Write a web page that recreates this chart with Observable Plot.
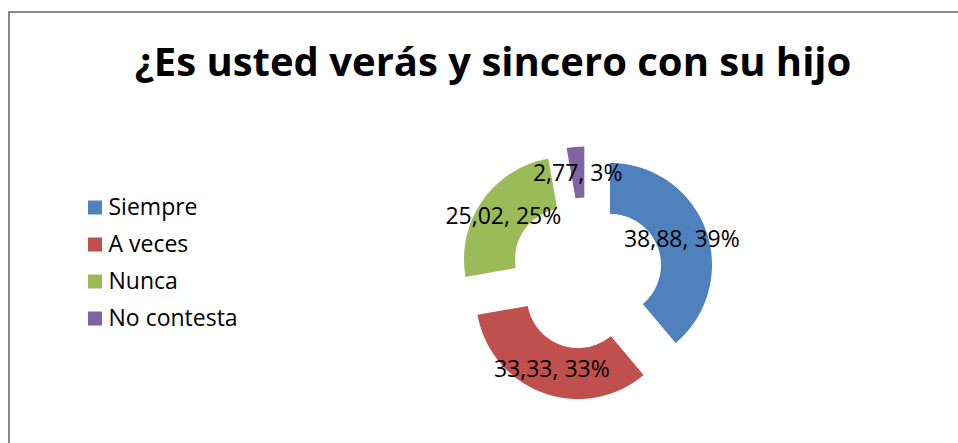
<!DOCTYPE html>
<html>
<head>
<meta charset="utf-8">
<script src="https://cdn.jsdelivr.net/npm/d3@7"></script>
<script src="https://cdn.jsdelivr.net/npm/@observablehq/plot@0.6"></script>
<style>
  html, body { margin: 0; padding: 0; background: #fff; width: 958px; height: 443px; overflow: hidden; }
  #frame { position: absolute; left: 8px; top: 11px; width: 1000px; height: 500px;
           border-left: 2px solid #8a8a8a; border-top: 2px solid #8a8a8a; box-sizing: border-box; }
  #title { position: absolute; left: 0; top: 41px; width: 986px; text-align: center;
           font-family: "Open Sans", sans-serif; font-weight: 700; font-size: 40px; line-height: 1;
           color: #000; white-space: nowrap; }
  #chart { position: absolute; left: 0; top: 110px; }
</style>
</head>
<body>
<div id="frame"></div>
<div id="title">¿Es usted verás y sincero con su hijo</div>
<div id="chart"></div>
<script>
// ---- data ----
const categories = ["Siempre", "A veces", "Nunca", "No contesta"];
const values = [38.88, 33.33, 25.02, 2.77];
const colors = ["#4F81BD", "#C0504D", "#9BBB59", "#8064A2"];

// ---- layout constants ----
const W = 958, H = 333, TOP = 110;
const center = [586, 273 - TOP];
const outerR = 102, innerR = 51, explode = 25;

const total = d3.sum(values);
const pie = d3.pie().sort(null).value(d => d.value);
const arcs = pie(categories.map((c, i) => ({cat: c, value: values[i]})));

const poly = [];
const labels = [];
arcs.forEach(a => {
  const mid = (a.startAngle + a.endAngle) / 2;
  const cx = center[0] + explode * Math.sin(mid);
  const cy = center[1] - explode * Math.cos(mid);
  const n = 60;
  for (let k = 0; k <= n; k++) {
    const t = a.startAngle + (a.endAngle - a.startAngle) * k / n;
    poly.push({cat: a.data.cat, x: cx + outerR * Math.sin(t), y: cy - outerR * Math.cos(t)});
  }
  for (let k = n; k >= 0; k--) {
    const t = a.startAngle + (a.endAngle - a.startAngle) * k / n;
    poly.push({cat: a.data.cat, x: cx + innerR * Math.sin(t), y: cy - innerR * Math.cos(t)});
  }
  const rm = (outerR + innerR) / 2;
  labels.push({
    x: cx + rm * Math.sin(mid),
    y: cy - rm * Math.cos(mid) + 1,
    text: a.data.value.toFixed(2).replace(".", ",") + ", " + Math.round(a.data.value / total * 100) + "%"
  });
});

const legend = categories.map((c, i) => ({cat: c, x: 94.5, tx: 108, y: 207 - TOP + i * 37}));

const chart = Plot.plot({
  width: W, height: H,
  margin: 0,
  style: {fontFamily: "'Open Sans', sans-serif", background: "transparent"},
  x: {type: "linear", domain: [0, W], range: [0, W], axis: null},
  y: {type: "linear", domain: [0, H], range: [0, H], axis: null},
  color: {domain: categories, range: colors},
  marks: [
    Plot.line(poly, {x: "x", y: "y", z: "cat", fill: "cat", stroke: "none", curve: "linear-closed"}),
    Plot.text(labels, {x: "x", y: "y", text: "text", fontSize: 23, fill: "#000", lineAnchor: "middle"}),
    Plot.dot(legend, {x: "x", y: "y", fill: "cat", symbol: "square", r: 14 / Math.sqrt(Math.PI), stroke: "none"}),
    Plot.text(legend, {x: "tx", y: "y", text: "cat", textAnchor: "start", fontSize: 23, fill: "#000", lineAnchor: "middle"})
  ]
});
document.getElementById("chart").appendChild(chart);
</script>
</body>
</html>
